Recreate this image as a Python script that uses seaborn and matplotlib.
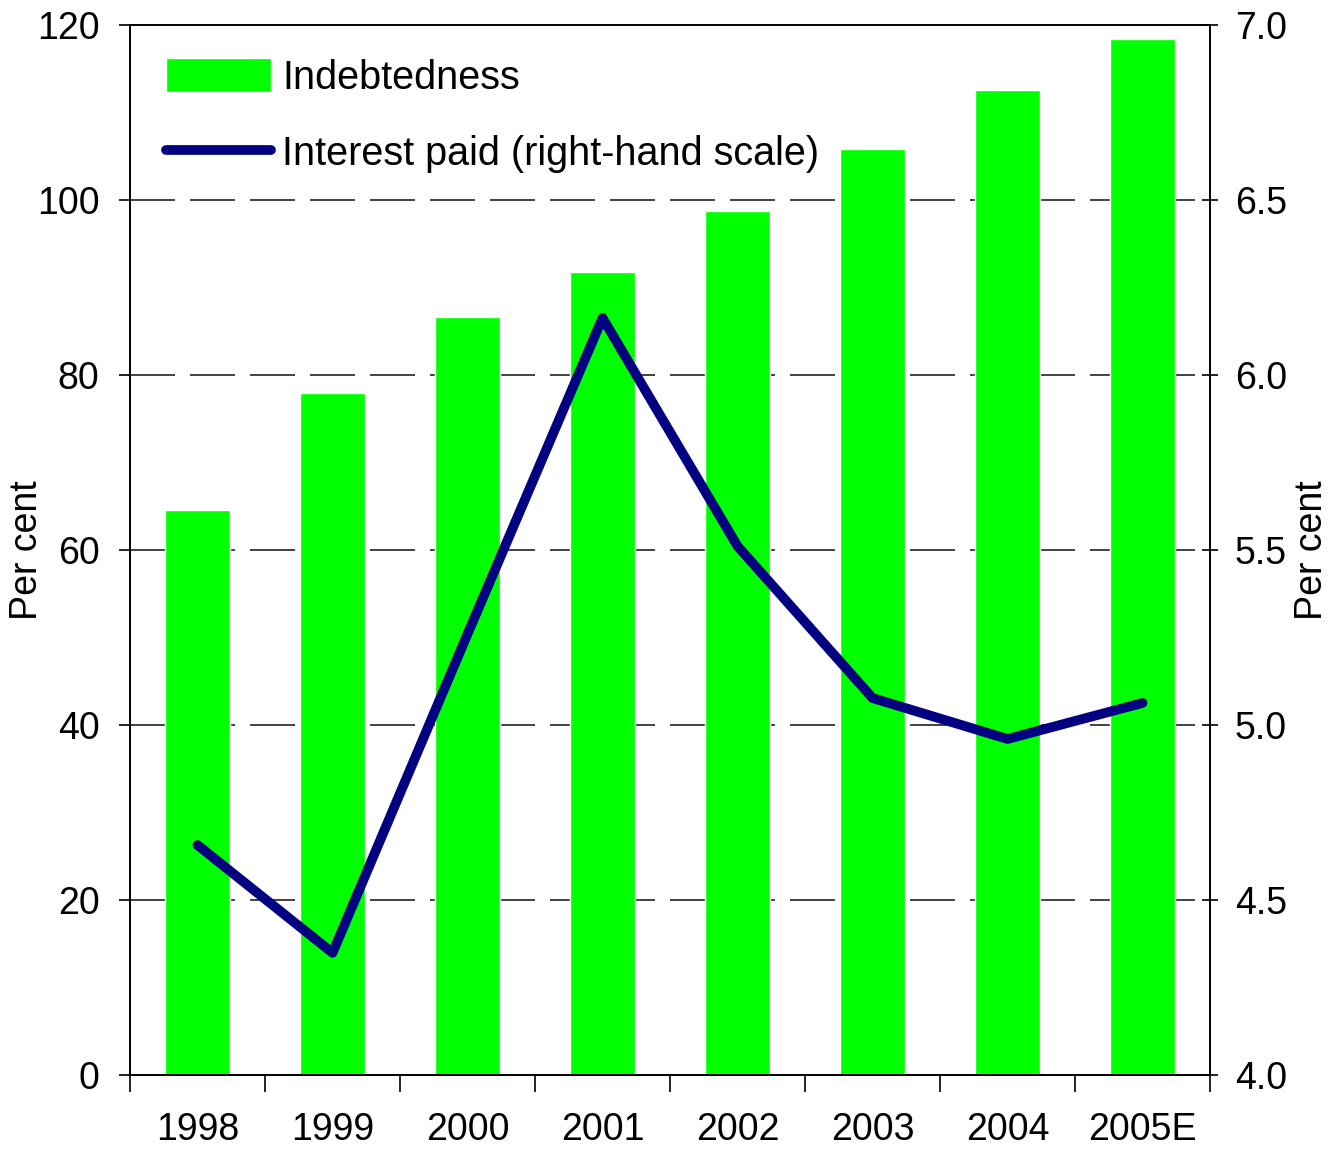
import numpy as np
import pandas as pd
import matplotlib
matplotlib.use("Agg")
import matplotlib.pyplot as plt
import seaborn as sns
from matplotlib.ticker import FormatStrFormatter, FixedLocator

years = ["1998", "1999", "2000", "2001", "2002", "2003", "2004", "2005E"]
indebtedness = [64.6, 77.9, 86.6, 91.8, 98.7, 105.8, 112.6, 118.4]
interest_paid = [4.657, 4.349, 5.26, 6.163, 5.511, 5.077, 4.96, 5.063]

sns.set_theme(style="white")
plt.rcParams["font.family"] = ["Liberation Sans", "DejaVu Sans"]
plt.rcParams["text.color"] = "black"
plt.rcParams["axes.labelcolor"] = "black"
plt.rcParams["xtick.color"] = "black"
plt.rcParams["ytick.color"] = "black"
FS = 27

df = pd.DataFrame({"year": years, "indebtedness": indebtedness,
                   "interest": interest_paid})

fig = plt.figure(figsize=(13.29, 11.5), dpi=100)
ax = fig.add_axes([130 / 1329, 1 - 1075 / 1150, 1080 / 1329, 1050 / 1150])

sns.barplot(data=df, x="year", y="indebtedness", color="#00ff00",
            saturation=1, width=0.48, ax=ax, label="Indebtedness", zorder=2)

ax.set_ylim(0, 120)
ax.set_xlim(-0.5, 7.5)
ax.set_yticks(np.arange(0, 121, 20))
for v in range(20, 120, 20):
    ax.axhline(v, color="#222222", lw=1.2, ls=(0, (27, 9)), zorder=1)

ax.set_xlabel("")
ax.set_ylabel("Per cent", fontsize=FS)
ax.yaxis.set_label_coords(-0.079, 0.5)
ax.tick_params(axis="x", which="major", length=0, labelsize=FS, pad=27)
ax.xaxis.set_minor_locator(FixedLocator(np.arange(-0.5, 8, 1)))
ax.tick_params(axis="x", which="minor", length=12, width=1.2,
               direction="out", bottom=True)
ax.tick_params(axis="y", length=8, width=1.2, direction="out",
               labelsize=FS, pad=14, left=True)

ax2 = ax.twinx()
sns.lineplot(x=np.arange(len(years)), y=df["interest"], color="#000080",
             lw=7, ax=ax2, label="Interest paid (right-hand scale)",
             solid_capstyle="round", legend=False)
ax2.set_ylim(4.0, 7.0)
ax2.set_yticks(np.arange(4.0, 7.01, 0.5))
ax2.yaxis.set_major_formatter(FormatStrFormatter("%.1f"))
ax2.set_ylabel("Per cent", fontsize=FS, rotation=90)
ax2.yaxis.set_label_coords(1.078, 0.5)
ax2.tick_params(axis="y", length=12, width=1.2,
                direction="inout", labelsize=FS, pad=12, right=True)

for a in (ax, ax2):
    for s in a.spines.values():
        s.set_color("black")
        s.set_linewidth(1.2)

ax2.set_zorder(ax.get_zorder() + 1)
ax2.patch.set_visible(False)

h1, l1 = ax.get_legend_handles_labels()
h2, l2 = ax2.get_legend_handles_labels()
if ax.get_legend() is not None:
    ax.get_legend().remove()
ax2.legend(h1 + h2, l1 + l2, loc="upper left", frameon=False,
           fontsize=28.5, handlelength=2.65, handleheight=0.95,
           handletextpad=0.28, labelspacing=0.95,
           bbox_to_anchor=(-0.003, 1.006), borderaxespad=0.6)

fig.savefig("out.png", dpi=100)
